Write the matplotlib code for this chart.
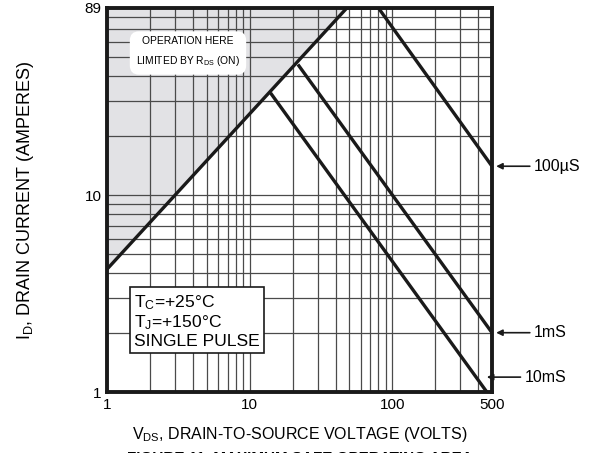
import matplotlib
matplotlib.use("Agg")
import matplotlib.pyplot as plt
from matplotlib.ticker import FixedLocator, LogLocator, NullFormatter

plt.rcParams['font.family'] = ['Liberation Sans', 'DejaVu Sans']
plt.rcParams['mathtext.fontset'] = 'custom'
plt.rcParams['mathtext.rm'] = 'Liberation Sans'
plt.rcParams['mathtext.it'] = 'Liberation Sans'

# safe operating area boundaries (V_DS in volts, I_D in amperes)
rds_v = [1, 48]
rds_i = [4.2, 89]
us100_v = [48, 80, 500]
us100_i = [89, 89, 14]
ms1_v = [21.8, 500]
ms1_i = [46, 2.0]
ms10_v = [14.0, 460]
ms10_i = [33, 1.0]

x_ticks = [1, 10, 100, 500]
y_ticks = [1, 10, 89]

# pulse labels: (text, tip V, tip I)
pulse_labels = [('100µS', 500, 14), ('1mS', 500, 2.0), ('10mS', 430, 1.19)]

fig = plt.figure(figsize=(5.92, 4.53), dpi=100)
W, H = 592, 453
ax = fig.add_axes([107 / W, (H - 392) / H, 385 / W, 384 / H])
ax.set_xscale('log')
ax.set_yscale('log')
ax.set_xlim(1, 500)
ax.set_ylim(1, 89)

ax.xaxis.set_major_locator(FixedLocator(x_ticks))
ax.yaxis.set_major_locator(FixedLocator(y_ticks))
ax.set_xticklabels([str(t) for t in x_ticks])
ax.set_yticklabels([str(t) for t in y_ticks])
ax.xaxis.set_minor_locator(LogLocator(subs=range(2, 10)))
ax.yaxis.set_minor_locator(LogLocator(subs=range(2, 10)))
ax.xaxis.set_minor_formatter(NullFormatter())
ax.yaxis.set_minor_formatter(NullFormatter())
ax.tick_params(which='both', length=0, labelsize=11, pad=4)

ax.set_axisbelow('line')
ax.grid(which='both', color='#4a4a4a', lw=0.9)

# shaded region limited by Rds(on)
ax.fill_between(rds_v, rds_i, [89, 89], color='#e2e2e5', lw=0, zorder=1)

for v, i in [(rds_v, rds_i), (us100_v, us100_i), (ms1_v, ms1_i), (ms10_v, ms10_i)]:
    ax.plot(v, i, color='#1a1a1a', lw=2.4, solid_capstyle='butt', zorder=3)

for s in ax.spines.values():
    s.set_linewidth(2.8)
    s.set_color('#1a1a1a')
    s.set_zorder(4)

# text boxes placed in pixel coordinates (origin bottom-left)
ax.text(188, H - 52, 'OPERATION HERE\nLIMITED BY R$_{\\rm DS}$ (ON)', transform=None,
        fontsize=7.4, ha='center', va='center', linespacing=1.9,
        bbox=dict(boxstyle='round,pad=0.6,rounding_size=0.9', fc='white', ec='none'),
        zorder=5)

ax.text(134, H - 321, 'T$_{\\rm C}$=+25°C\nT$_{\\rm J}$=+150°C\nSINGLE PULSE',
        transform=None, fontsize=12.6, ha='left', va='center', linespacing=1.1,
        bbox=dict(boxstyle='square,pad=0.25', fc='white', ec='#1a1a1a', lw=1.2),
        zorder=5)

for txt, v, i in pulse_labels:
    ax.annotate(txt, xy=(v, i), xytext=(42, 0), textcoords='offset pixels',
                fontsize=11.5, va='center', ha='left', annotation_clip=False,
                arrowprops=dict(arrowstyle='-|>', color='#1a1a1a', lw=1.2,
                                mutation_scale=9, shrinkA=1, shrinkB=3))

ax.set_xlabel('V$_{\\rm DS}$, DRAIN-TO-SOURCE VOLTAGE (VOLTS)', fontsize=11.5, labelpad=10)
ax.set_ylabel('I$_{\\rm D}$, DRAIN CURRENT (AMPERES)', fontsize=13)
ax.yaxis.set_label_coords((36 - 107) / 385, 0.5)

fig.text(300 / W, 2 / H, 'FIGURE 11. MAXIMUM SAFE OPERATING AREA', fontsize=11,
         fontweight='bold', ha='center', va='top')

fig.savefig('out.png', dpi=100)
